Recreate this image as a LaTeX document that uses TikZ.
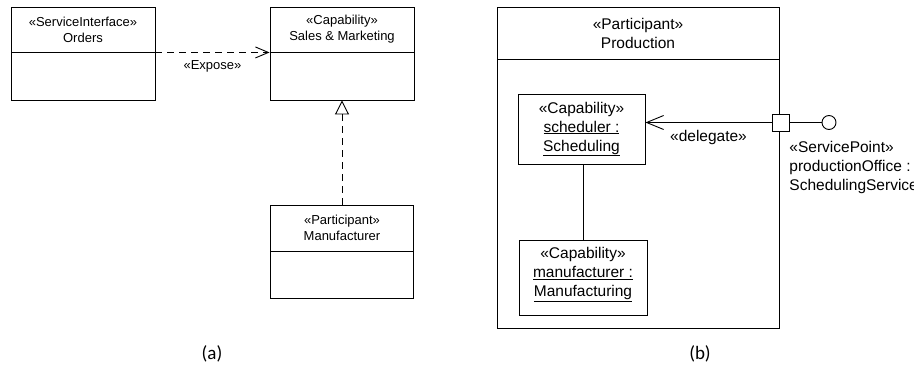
\documentclass[tikz,border=0pt]{standalone}
\usepackage{fontspec}
\setmainfont{Liberation Sans}
\newfontfamily\capfont{Carlito}
\usetikzlibrary{arrows.meta}
\begin{document}
\begin{tikzpicture}[x=1pt,y=-1pt,
  line width=0.9pt,
  cell/.style={draw, rectangle, inner sep=0pt, align=center},
  smalltxt/.style={font=\fontsize{13}{16}\selectfont},
  bigtxt/.style={font=\fontsize{15.5}{19}\selectfont},
  dep/.style={dash pattern=on 7pt off 5pt},
  openv/.style={-{Straight Barb[length=13pt,width=11pt]}},
  realize/.style={-{Triangle[open,length=14pt,width=14pt,fill=white]}},
  capt/.style={font=\capfont\fontsize{19}{22}\selectfont}]
\useasboundingbox (0,0) rectangle (914,369);
% ---------- (a) ----------
\node[cell, smalltxt, minimum width=144, minimum height=45] (ordersH) at (83,29.5) {«ServiceInterface»\\Orders};
\node[cell, minimum width=144, minimum height=48] (ordersB) at (83,76) {};
\node[cell, smalltxt, minimum width=144, minimum height=45] (salesH) at (342,29.5) {«Capability»\\Sales \& Marketing};
\node[cell, minimum width=144, minimum height=48] (salesB) at (342,76) {};
\node[cell, smalltxt, minimum width=143, minimum height=46] (manuH) at (342,228) {«Participant»\\Manufacturer};
\node[cell, minimum width=143, minimum height=47] (manuB) at (342,274.5) {};
\draw[dep, openv] (ordersH.south east) -- node[smalltxt, below=4pt] (expose) {«Expose»} (salesH.south west);
\draw[dep, realize] (manuH.north) -- (manuH.north |- salesB.south);
\node[capt] (capa) at (212,354) {(a)};
% ---------- (b) ----------
\node[cell, bigtxt, minimum width=282, minimum height=52] (prodH) at (638,33) {«Participant»\\Production};
\node[cell, minimum width=282, minimum height=269] (prodB) at (638,193.5) {};
\node[cell, bigtxt, minimum width=127, minimum height=70] (sched) at (581.5,129) {«Capability»\\\underline{scheduler :}\\\underline{Scheduling}};
\node[cell, minimum width=128, minimum height=75] (mfg) at (583,277.5) {};
\node[bigtxt, align=center] (mfgtxt) at (583,274.5) {«Capability»\\\underline{manufacturer :}\\\underline{Manufacturing}};
\draw (mfg.north) -- (mfg.north |- sched.south);
\node[draw, rectangle, fill=white, minimum size=17, inner sep=0pt] (port) at (780.5,122.5) {};
\node[draw, circle, minimum size=14, inner sep=0pt] (sp) at (829,122.5) {};
\draw (port.east) -- (sp.west);
\draw[-{Straight Barb[length=17pt,width=14pt]}] (port.west) -- node[bigtxt, below=4pt] (delegate) {«delegate»} (port.west -| sched.east);
\node[bigtxt, align=left, anchor=north west, inner sep=0pt] (sptxt) at (789,141) {«ServicePoint»\\productionOffice :\\SchedulingService};
\node[capt] (capb) at (700,354) {(b)};
\end{tikzpicture}
\end{document}
